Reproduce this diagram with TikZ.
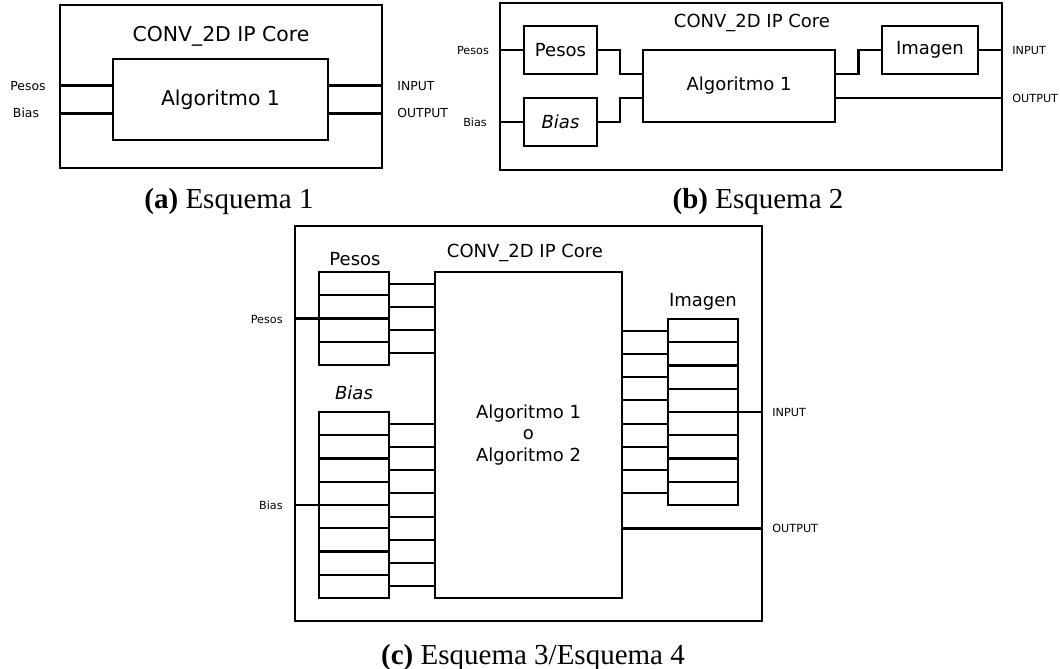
\documentclass[tikz,border=0pt]{standalone}
\usepackage{fontspec}
\setmainfont{DejaVu Sans}
\newfontfamily\capfont{Liberation Serif}
\usetikzlibrary{positioning,fit,calc}

\tikzset{
    box/.style={draw, line width=1.1pt, inner sep=0pt},
    cell/.style={draw, line width=1.1pt, inner sep=0pt, outer sep=0pt,
        minimum width=35pt, minimum height=11.625pt},
    wire/.style={line width=1.1pt},
    big/.style={font=\fontsize{10.2}{12}\selectfont},
    mid/.style={font=\fontsize{9}{10.8}\selectfont},
    lbl/.style={font=\fontsize{5.6}{7}\selectfont, inner sep=0pt},
    lblA/.style={font=\fontsize{6.2}{7}\selectfont, inner sep=0pt},
    caption/.style={font=\capfont\fontsize{14.5}{17}\selectfont, anchor=base, inner sep=0pt}
}

\begin{document}
\begin{tikzpicture}[x=0.5pt, y=-0.5pt]
    \useasboundingbox (0,0) rectangle (1060,669);

    % (a) Esquema 1
    \node [box, line width=1.3pt, fit={(60,5) (382,168)}] (coreA) {};
    \node [big] (titleA) at (221,36) {CONV\_2D IP Core};
    \node [box, big, line width=1.3pt, minimum width=107.5pt, minimum height=40.5pt] (algA) at (220.5,99.5) {Algoritmo 1};
    \coordinate (algA-w1) at ($(algA.north west)!.333!(algA.south west)$);
    \coordinate (algA-w2) at ($(algA.north west)!.667!(algA.south west)$);
    \coordinate (algA-e1) at ($(algA.north east)!.333!(algA.south east)$);
    \coordinate (algA-e2) at ($(algA.north east)!.667!(algA.south east)$);
    \draw [wire, line width=1.3pt] (coreA.west |- algA-w1) -- (algA-w1);
    \draw [wire, line width=1.3pt] (coreA.west |- algA-w2) -- (algA-w2);
    \draw [wire, line width=1.3pt] (algA-e1) -- (algA-e1 -| coreA.east);
    \draw [wire, line width=1.3pt] (algA-e2) -- (algA-e2 -| coreA.east);
    \node [lblA] (pesosA) at (28,86) {Pesos};
    \node [lblA] (biasA) at (26,113) {Bias};
    \node [lblA, anchor=west] (inA) at (397,86) {INPUT};
    \node [lblA, anchor=west] (outA) at (397,113) {OUTPUT};
    \node [caption] (capA) at (229,208) {\textbf{(a)} Esquema 1};

    % (b) Esquema 2
    \node [box, fit={(500,3) (1002,170)}] (coreB) {};
    \node [mid] (titleB) at (752,23) {CONV\_2D IP Core};
    \node [box, mid, minimum width=36.5pt, minimum height=24pt] (pesB) at (560.5,50) {Pesos};
    \node [box, mid, minimum width=36.5pt, minimum height=24pt] (biasB) at (560.5,122) {\itshape Bias};
    \node [box, mid, minimum width=96pt, minimum height=36pt] (algB) at (739,86) {Algoritmo 1};
    \node [box, mid, minimum width=48pt, minimum height=24pt] (imgB) at (930,50) {Imagen};
    \coordinate (algB-w1) at ($(algB.north west)!.333!(algB.south west)$);
    \coordinate (algB-w2) at ($(algB.north west)!.667!(algB.south west)$);
    \coordinate (algB-e1) at ($(algB.north east)!.333!(algB.south east)$);
    \coordinate (algB-e2) at ($(algB.north east)!.667!(algB.south east)$);
    \draw [wire] (coreB.west |- pesB.east) -- (pesB.west);
    \draw [wire] (coreB.west |- biasB.east) -- (biasB.west);
    \draw [wire] (pesB.east) -| ($(pesB.east)!.5!(algB-w1)$) |- (algB-w1);
    \draw [wire] (biasB.east) -| ($(biasB.east)!.5!(algB-w2)$) |- (algB-w2);
    \draw [wire] (algB-e1) -| ($(algB-e1)!.5!(imgB.west)$) |- (imgB.west);
    \draw [wire] (imgB.east) -- (imgB.east -| coreB.east);
    \draw [wire] (algB-e2) -- (algB-e2 -| coreB.east);
    \node [lbl] (pesosB) at (473,50) {Pesos};
    \node [lbl] (biasBl) at (475,122) {Bias};
    \node [lbl, anchor=west] (inB) at (1012,50) {INPUT};
    \node [lbl, anchor=west] (outB) at (1012,98) {OUTPUT};
    \node [caption] (capB) at (758,208) {\textbf{(b)} Esquema 2};

    % (c) Esquema 3/Esquema 4
    \node [box, fit={(295,226) (762,621)}] (coreC) {};
    \node [mid] (titleC) at (525,253) {CONV\_2D IP Core};
    \node [box, mid, align=center, minimum width=93.5pt, minimum height=163pt] (algC) at (528.5,435) {Algoritmo 1\\o\\Algoritmo 2};
    \node [mid] (pesCh) at (355,259) {Pesos};
    \node [mid] (biasCh) at (354,393) {\itshape Bias};
    \node [mid] (imgCh) at (703,302) {Imagen};

    % registros
    \node [cell, anchor=north west] (pesC1) at (319,272) {};
    \node [cell, anchor=north west] (biasC1) at (319,412) {};
    \node [cell, anchor=north west] (imgC1) at (668,319) {};
    \foreach \i [remember=\i as \j (initially 1)] in {2,...,4}
        \node [cell, below=0pt of pesC\j] (pesC\i) {};
    \foreach \i [remember=\i as \j (initially 1)] in {2,...,8} {
        \node [cell, below=0pt of biasC\j] (biasC\i) {};
        \node [cell, below=0pt of imgC\j] (imgC\i) {};
    }
    \foreach \i in {1,...,4}
        \draw [wire] (pesC\i.east) -- (pesC\i.east -| algC.west);
    \foreach \i in {1,...,8} {
        \draw [wire] (biasC\i.east) -- (biasC\i.east -| algC.west);
        \draw [wire] (algC.east |- imgC\i.west) -- (imgC\i.west);
    }

    \coordinate (algC-out) at ($(algC.north east)!.785!(algC.south east)$);
    \draw [wire] (coreC.west |- pesC2.south) -- (pesC2.south west);
    \draw [wire] (coreC.west |- biasC4.south) -- (biasC4.south west);
    \draw [wire] (imgC4.south east) -- (imgC4.south east -| coreC.east);
    \draw [wire] (algC-out) -- (algC-out -| coreC.east);
    \node [lbl, anchor=east] (pesosC) at (283,319) {Pesos};
    \node [lbl, anchor=east] (biasCl) at (283,505) {Bias};
    \node [lbl, anchor=west] (inC) at (772,412) {INPUT};
    \node [lbl, anchor=west] (outC) at (772,528) {OUTPUT};
    \node [caption] (capC) at (533,664) {\textbf{(c)} Esquema 3/Esquema 4};
\end{tikzpicture}
\end{document}
